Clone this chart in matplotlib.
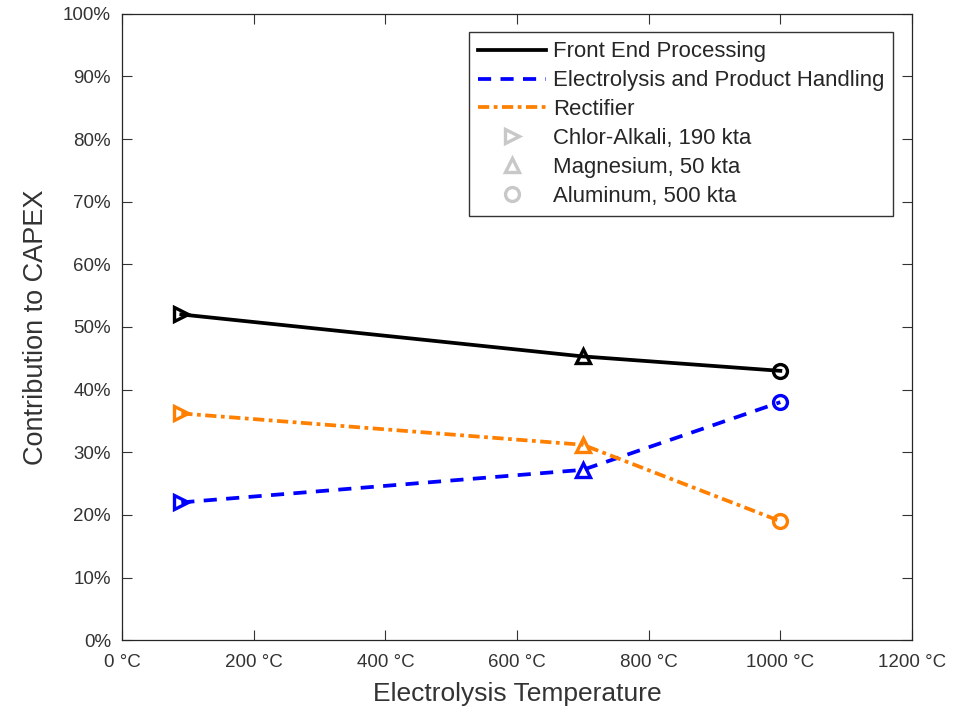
import matplotlib.pyplot as plt
from matplotlib.ticker import FuncFormatter

plt.rcParams['font.family'] = ['Liberation Sans', 'DejaVu Sans']

temps = [90, 700, 1000]
front_end = [52, 45.3, 43]
electrolysis = [22, 27.2, 38]
rectifier = [36.2, 31.2, 19]
markers = ['>', '^', 'o']
plant_labels = ['Chlor-Alkali, 190 kta', 'Magnesium, 50 kta', 'Aluminum, 500 kta']

fig = plt.figure(figsize=(9.61, 7.21), dpi=100)
ax = fig.add_axes([0.127, 0.112, 0.822, 0.869])

series = [
    (front_end, 'black', '-', 'Front End Processing'),
    (electrolysis, '#0000ff', (0, (3.5, 2.5)), 'Electrolysis and Product Handling'),
    (rectifier, '#ff8000', (0, (3, 1.2, 1, 1.2)), 'Rectifier'),
]
for vals, col, ls, lab in series:
    ax.plot(temps, vals, color=col, linestyle=ls, linewidth=2.7, label=lab)
    for t, v, m in zip(temps, vals, markers):
        ax.plot(t, v, marker=m, markersize=10, markerfacecolor='none',
                markeredgecolor=col, markeredgewidth=2.4, linestyle='none')

for m, lab in zip(markers, plant_labels):
    ax.plot([], [], marker=m, markersize=10, markerfacecolor='none',
            markeredgecolor='#c8c8c8', markeredgewidth=2.4, linestyle='none', label=lab)

ax.set_xlim(0, 1200)
ax.set_ylim(0, 100)
ax.set_xticks(range(0, 1201, 200))
ax.set_yticks(range(0, 101, 10))
ax.xaxis.set_major_formatter(FuncFormatter(lambda v, p: f'{int(v)} °C'))
ax.yaxis.set_major_formatter(FuncFormatter(lambda v, p: f'{int(v)}%'))
ax.tick_params(direction='in', top=True, right=True, labelsize=13.5,
               colors='#333333', length=7, width=0.8)
ax.tick_params(axis='y', pad=8)
ax.tick_params(axis='x', pad=10)
for s in ax.spines.values():
    s.set_color('#262626')
    s.set_linewidth(0.9)

ax.set_xlabel('Electrolysis Temperature', fontsize=19, color='#333333', labelpad=8)
ax.set_ylabel('Contribution to CAPEX', fontsize=19.5, color='#333333', labelpad=10)

leg = ax.legend(loc='upper right', bbox_to_anchor=(0.976, 0.970), borderaxespad=0,
                fontsize=15.9, frameon=True, fancybox=False, edgecolor='black',
                handlelength=3.1, borderpad=0.4, labelspacing=0.36, handletextpad=0.3)
leg.get_frame().set_linewidth(1.0)
for t in leg.get_texts():
    t.set_color('#262626')

fig.savefig('out.png', dpi=100)
